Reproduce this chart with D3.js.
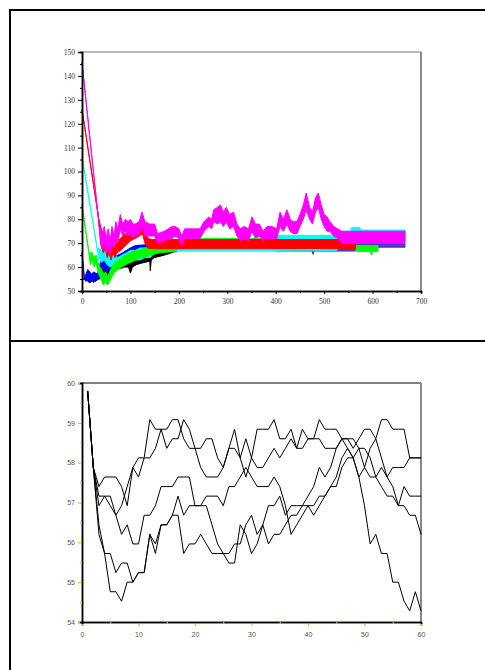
<!DOCTYPE html>
<html>
<head>
<meta charset="utf-8">
<script src="https://cdn.jsdelivr.net/npm/d3@7"></script>
<style>
  body { margin: 0; background: #fff; }
  .tick text { opacity: 0.99; }
</style>
</head>
<body>
<svg id="chart" width="485" height="670"></svg>
<script>
// ---- top panel: bands of many walks, [x, low, high] ----
var magentaBand = [[0,145.5,145.5],[36,76,76],[38,70,77],[42,67,74],[46,71,77],[50,66,72],[54,69,76],[58,65,71],[62,70,77],[66,68,73],[70,72,79],[74,70,76],[79,76,82],[84,73,78],[90,75,80],[95,73,79],[100,74,80],[105,72,78],[110,73,78],[118,74,79],[124,77,83],[130,73,79],[140,73,78],[150,73,78],[156,70,74],[170,71,75],[186,72,77],[192,73,77],[200,72,76],[206,69,73],[212,72,76],[230,72,76],[244,72,76],[252,75,79],[262,77,81],[268,76,80],[272,79,84],[280,78,85],[286,79,86],[292,77,83],[298,79,85],[305,76,82],[313,77,83],[320,73,78],[327,71,76],[335,72,77],[344,71,76],[351,75,81],[358,72,78],[366,73,78],[374,71,75],[382,72,77],[392,72,77],[402,72,76],[409,77,83],[416,75,80],[423,78,84],[430,75,80],[436,74,79],[444,74,79],[450,77,82],[457,80,86],[463,84,91],[470,80,85],[476,78,83],[482,83,89],[488,85,91],[494,80,86],[500,77,82],[506,75,81],[512,75,79],[520,73,77],[528,72,76],[536,70,75],[580,70,75],[667,70,75]];
var redBand = [[0,126,126],[34,81,81],[36,76,79],[40,69,76],[44,66,72],[48,68,74],[52,64,69],[56,66,71],[60,63,68],[64,66,70],[68,64,69],[72,66,71],[80,67,72],[90,69,74],[100,71,75],[110,72,76],[118,73,77],[125,74,78],[130,70,75],[136,68,72],[145,67.7,71.5],[565,67.7,71.5]];
var cyanBand = [[0,106,106],[33,66,66],[34,64,68],[40,62,67],[46,63,68],[52,61,66],[58,60,65],[66,61,65],[74,60,64],[82,61,65],[92,62,66],[100,62,67],[110,63,67],[120,63,68],[130,64,68],[141,64,68],[150,66,69],[160,66.7,70],[400,66.7,71],[402,66.7,73.3],[526,67,73.3],[530,68,75],[555,70,75],[556,72,76.5],[574,72,76.5],[576,71,75.5],[667,71,75.5]];
var greenBand = [[0,86,86],[15,65,65],[17,61,66],[21,63,66],[25,60,64],[29,62,65],[33,58,62],[37,56,60],[41,54,59],[45,52.5,57],[49,54,58],[53,52.5,56],[57,54,58],[62,56,60],[68,58,62],[75,59,63],[82,60,64],[90,61,65],[100,62,66],[110,63,67],[120,64,67],[130,64,68],[141,65,68],[160,66,69],[189,66.5,70],[200,68,72],[400,68,72],[420,68,71],[565,68,70],[566,66.5,69],[596,66.5,69],[598,65,69],[600,66.5,69],[611,66.5,69]];
var blueBand = [[0,66,66],[5,55,55],[8,54,57],[12,55,59],[16,53.5,58],[20,54.5,57],[24,53.5,58],[28,55,57.5],[32,54.5,57],[36,56,60],[40,59,64],[44,60,66],[48,58,63],[52,59,63],[56,59,64],[60,58,63],[66,59,64],[74,61,65],[84,62,66],[92,63,67],[100,65,68],[110,66,69],[141,66.5,69.5],[150,67,69],[400,67,69]];
var blueTail = [[400,66.7,69],[475,66.7,69],[477,65.3,69],[479,66.7,69],[565,66.7,69],[566,68.3,70],[667,68.3,70]];
var blackBand = [[0,55,55],[10,55,55],[12,54,56],[16,53.5,56],[20,54,57],[24,54.5,56.5],[28,54,57],[32,55,57],[36,55,58],[40,55.5,60],[44,53,59],[48,55,60],[52,53,58],[56,56,60],[60,57,61],[66,58,62],[72,59,62],[80,59.5,63],[88,60,63],[96,60,63],[100,57.5,63],[104,60,64],[112,61,64.5],[120,61.5,65],[130,62,65.5],[140,62.5,66],[141,58.5,66],[143,63,66],[150,64,66.5],[170,65,66.8],[200,67,68],[560,67,68]];
var topXTicks = [0,100,200,300,400,500,600,700];
var topYTicks = [50,60,70,80,90,100,110,120,130,140,150];

// ---- bottom panel: five walks, value at x = 1..60 ----
var walk1 = [59.8,57.88,57.4,57.64,57.64,57.64,57.4,56.92,57.88,58.12, 58.12,59.08,58.84,58.84,58.84,59.08,59.08,58.6,58.36,58.36, 58.36,58.6,58.6,58.12,57.88,58.36,58.84,58.12,57.64,58.12, 58.84,58.84,58.84,59.08,58.6,58.6,58.84,58.36,58.84,58.6, 58.6,59.08,58.84,58.84,58.84,58.6,58.36,58.12,57.64,57.88, 58.36,58.6,59.08,59.08,58.84,58.84,58.84,58.12,58.12,58.12];
var walk2 = [59.8,57.88,57.16,57.16,56.92,56.68,56.92,57.4,57.88,57.64, 58.12,58.12,58.36,58.84,58.36,58.6,58.6,59.08,58.84,58.36, 57.88,57.64,57.64,57.64,57.88,58.36,58.36,58.12,58.6,58.12, 57.88,57.88,58.12,58.36,58.12,58.36,58.6,58.36,58.36,58.6, 58.6,58.6,58.36,58.36,58.36,58.6,58.6,58.36,58.6,58.84, 58.84,58.6,58.12,57.64,57.4,56.92,57.4,57.16,57.16,57.16];
var walk3 = [59.8,57.88,56.92,57.16,57.16,56.68,56.2,56.44,55.96,55.96, 56.68,56.68,56.92,57.4,57.4,57.4,57.64,57.64,57.64,56.92, 56.92,56.92,56.44,55.96,55.72,55.72,55.96,55.96,56.44,56.68, 56.2,56.44,56.92,56.92,57.16,56.68,56.92,56.92,56.92,57.16, 57.4,57.88,57.64,57.88,58.36,58.6,58.6,58.6,58.36,57.88, 57.64,57.64,57.88,57.64,57.88,57.88,57.88,58.12,58.12,58.12];
var walk4 = [59.8,57.88,56.2,55.72,55.72,55.24,55.48,55.48,55.0,55.24, 55.24,56.2,55.72,56.44,56.44,56.68,57.16,56.68,56.92,56.92, 56.92,57.16,57.16,57.16,56.92,57.4,57.4,57.64,57.88,57.64, 57.4,57.4,57.4,57.64,57.4,56.92,56.2,56.44,56.68,56.92, 56.92,57.16,57.16,57.4,57.4,57.88,58.12,58.12,58.36,58.36, 58.12,57.64,57.4,57.16,57.16,56.92,56.92,56.68,56.68,56.2];
var walk5 = [59.8,57.88,56.44,55.72,54.76,54.76,54.52,55.0,55.0,55.24, 55.24,56.2,55.96,56.44,56.44,56.68,56.68,55.72,55.96,55.96, 56.2,55.96,55.72,55.72,55.72,55.48,55.48,56.44,56.2,55.72, 55.96,56.44,55.96,56.2,56.2,56.44,56.68,56.68,56.92,56.92, 56.68,56.92,57.16,57.4,57.64,58.12,58.36,58.12,57.64,56.92, 55.96,56.2,55.72,55.72,55.0,55.0,54.52,54.28,54.76,54.28];
var bottomXTicks = [0,10,20,30,40,50,60];
var bottomYTicks = [54,55,56,57,58,59,60];

var svg = d3.select("#chart");

// frame round the two panels
svg.append("line").attr("x1",10).attr("y1",10).attr("x2",10).attr("y2",670)
   .attr("stroke","#000").attr("stroke-width",2);
svg.append("line").attr("x1",9).attr("y1",10).attr("x2",485).attr("y2",10)
   .attr("stroke","#000").attr("stroke-width",2);
svg.append("line").attr("x1",9).attr("y1",341).attr("x2",485).attr("y2",341)
   .attr("stroke","#000").attr("stroke-width",2);

// ---------- top panel ----------
var left = 82, right = 421;
var x1 = d3.scaleLinear().domain([0,700]).range([left,right]);
var y1 = d3.scaleLinear().domain([50,150]).range([291,52]);

var topG = svg.append("g");
var band = d3.area().x(function(d){ return x1(d[0]); })
                    .y0(function(d){ return y1(d[1]); })
                    .y1(function(d){ return y1(d[2]); });

[[blackBand,"#000000"],[blueBand,"#0000ff"],[blueTail,"#5038c8"],[cyanBand,"#00ffff"],
 [greenBand,"#00ff00"],[redBand,"#ff0000"],[magentaBand,"#ff00ff"]].forEach(function(s){
  topG.append("path").attr("d",band(s[0]))
     .attr("fill",s[1]).attr("stroke",s[1]).attr("stroke-width",1);
});

// borders
topG.append("line").attr("x1",left).attr("x2",right).attr("y1",52).attr("y2",52)
   .attr("stroke","#777").attr("stroke-width",1);
topG.append("line").attr("x1",right).attr("x2",right).attr("y1",52).attr("y2",291)
   .attr("stroke","#888").attr("stroke-width",2);

var serif = "'Liberation Serif', 'DejaVu Serif', serif";
topG.append("g").attr("transform","translate(0,291)")
  .call(d3.axisBottom(x1).tickValues(topXTicks).tickSize(3).tickPadding(5).tickFormat(d3.format("d")));
topG.append("g").attr("transform","translate(0,291)")
  .call(d3.axisBottom(x1).tickValues(d3.range(50,700,100)).tickSize(2).tickFormat(""));
topG.append("g").attr("transform","translate("+left+",0)")
  .call(d3.axisLeft(y1).tickValues(topYTicks).tickSize(4).tickPadding(3).tickFormat(d3.format("d")));
topG.append("g").attr("transform","translate("+left+",0)")
  .call(d3.axisLeft(y1).tickValues(d3.range(55,150,10)).tickSize(2).tickFormat(""));
topG.selectAll(".domain").attr("stroke","#000").attr("stroke-width",1.5);
topG.selectAll(".tick line").attr("stroke","#000").attr("stroke-width",1);
topG.selectAll(".tick text").attr("font-family",serif).attr("font-size",7.5).attr("fill","#333");

// ---------- bottom panel ----------
var x2 = d3.scaleLinear().domain([0,60]).range([left,right]);
var y2 = d3.scaleLinear().domain([54,60]).range([622,383]);
var botG = svg.append("g");

botG.append("line").attr("x1",left).attr("x2",right).attr("y1",383).attr("y2",383)
   .attr("stroke","#000").attr("stroke-width",1);
botG.append("line").attr("x1",right).attr("x2",right).attr("y1",383).attr("y2",622)
   .attr("stroke","#888").attr("stroke-width",2);

var walkLine = d3.line().x(function(d,i){ return x2(i+1); }).y(function(d){ return y2(d); });
[walk1,walk2,walk3,walk4,walk5].forEach(function(w){
  botG.append("path").attr("d",walkLine(w)).attr("fill","none")
     .attr("stroke","#000").attr("stroke-width",1);
});

var sans = "'Liberation Sans', Arial, sans-serif";
botG.append("g").attr("transform","translate(0,622)")
  .call(d3.axisBottom(x2).tickValues(bottomXTicks).tickSize(4).tickPadding(6).tickFormat(d3.format("d")));
botG.append("g").attr("transform","translate(0,622)")
  .call(d3.axisBottom(x2).tickValues([5,15,25,35,45,55]).tickSize(2).tickFormat(""));
botG.append("g").attr("transform","translate("+left+",0)")
  .call(d3.axisLeft(y2).tickValues(bottomYTicks).tickSize(4).tickPadding(3).tickFormat(d3.format("d")));
botG.append("g").attr("transform","translate("+left+",0)")
  .call(d3.axisLeft(y2).tickValues([54.5,55.5,56.5,57.5,58.5,59.5]).tickSize(2).tickFormat(""));
botG.selectAll(".domain").attr("stroke","#000").attr("stroke-width",1.5);
botG.selectAll(".tick line").attr("stroke","#f5c400").attr("stroke-width",1.2);
botG.selectAll(".tick text").attr("font-family",sans).attr("font-size",7).attr("fill","#555");
</script>
</body>
</html>
